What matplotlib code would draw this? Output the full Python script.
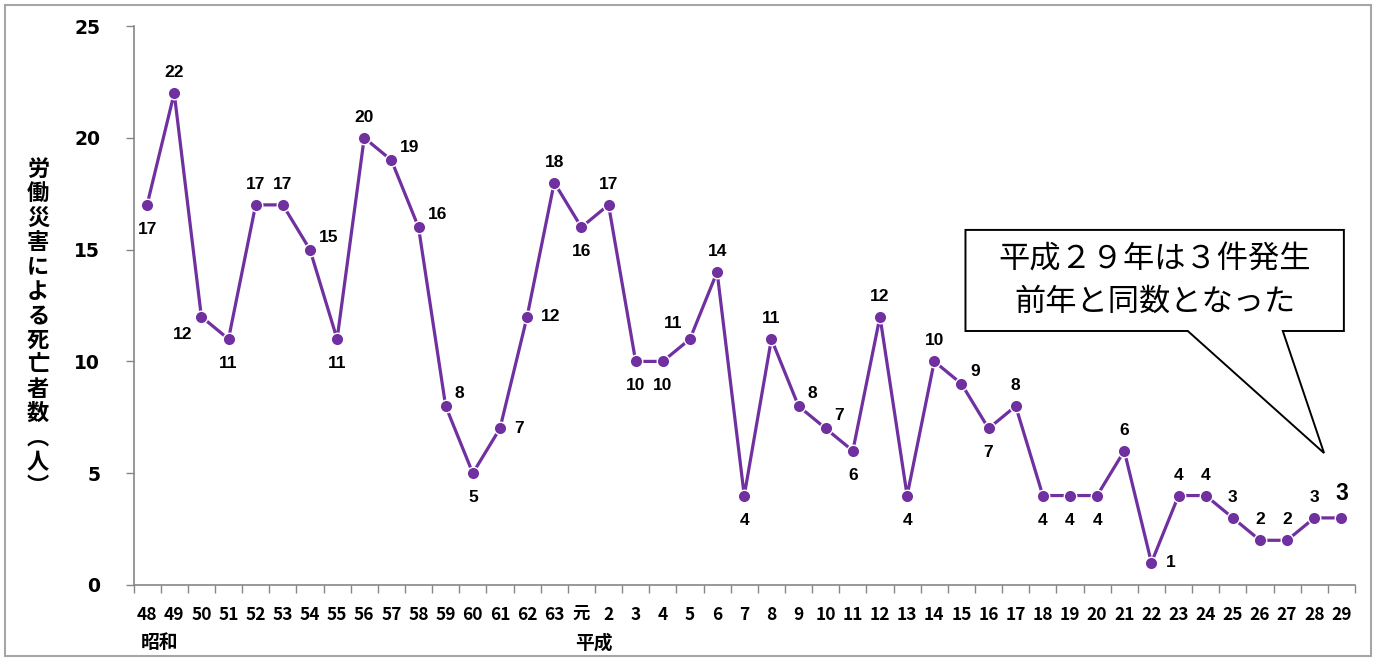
import matplotlib
matplotlib.use("Agg")
import matplotlib.pyplot as plt
from matplotlib.patches import Polygon, Rectangle

# 年度（昭和48年〜平成29年）
years = ["48", "49", "50", "51", "52", "53", "54", "55", "56", "57", "58", "59",
         "60", "61", "62", "63", "元", "2", "3", "4", "5", "6", "7", "8", "9",
         "10", "11", "12", "13", "14", "15", "16", "17", "18", "19", "20", "21",
         "22", "23", "24", "25", "26", "27", "28", "29"]
deaths = [17, 22, 12, 11, 17, 17, 15, 11, 20, 19, 16, 8, 5, 7, 12, 18, 16, 17,
          10, 10, 11, 14, 4, 11, 8, 7, 6, 12, 4, 10, 9, 7, 8, 4, 4, 4, 6, 1,
          4, 4, 3, 2, 2, 3, 3]
# データラベルの位置（a:上, b:下, r:右, ar:右上, al:左上, bl:左下）
label_pos = ["b", "a", "bl", "b", "a", "a", "ar", "b", "a", "ar", "ar", "ar",
             "b", "r", "r", "a", "b", "a", "b", "b", "al", "a", "b", "a", "ar",
             "ar", "b", "a", "b", "a", "ar", "b", "a", "b", "b", "b", "a", "r",
             "a", "a", "a", "a", "a", "a", "a"]
y_ticks = [0, 5, 10, 15, 20, 25]
era_labels = [("昭和", "48"), ("平成", "元")]
y_title = "労働災害による死亡者数︵人︶"
callout_text = "平成２９年は３件発生\n前年と同数となった"

PURPLE = "#7030A0"
CJK = "Noto Sans CJK JP"

offsets = {"a": (0, 13, "center", "bottom"),
           "b": (0, -17, "center", "top"),
           "r": (14, 0, "left", "center"),
           "ar": (9, 5, "left", "bottom"),
           "al": (-8, 8, "right", "bottom"),
           "bl": (-9, -10, "right", "top")}

fig = plt.figure(figsize=(13.84, 6.61), dpi=100)
W, H = 1384, 661
ax = fig.add_axes([133.5 / W, 76 / H, (1355 - 133.5) / W, (585 - 26) / H])

x = list(range(len(years)))
ax.plot(x, deaths, color=PURPLE, lw=2.3, marker="o", ms=9,
        mfc=PURPLE, mec="white", mew=1.0, zorder=3, clip_on=False)

for i, (v, p) in enumerate(zip(deaths, label_pos)):
    dx, dy, ha, va = offsets[p]
    last = i == len(deaths) - 1
    ax.annotate(str(v), (i, v), xytext=(dx, dy), textcoords="offset pixels",
                ha=ha, va=va, fontsize=16.5 if last else 12.5,
                fontweight="bold", family=["Liberation Sans", "DejaVu Sans"],
                color="black", zorder=4)

ax.set_xlim(-0.5, len(years) - 0.5)
ax.set_ylim(0, 25)
ax.set_yticks(y_ticks)
ax.set_yticklabels([str(t) for t in y_ticks], fontsize=13.5, fontweight="bold",
                   family=["DejaVu Sans"])
ax.tick_params(axis="y", direction="out", length=6, width=1, color="#868686",
               pad=18)

ax.set_xticks(x)
ax.set_xticklabels(years, fontsize=12.5, fontweight="bold",
                   family=["Liberation Sans Narrow", CJK])
ax.tick_params(axis="x", which="major", length=0, pad=15)
ax.set_xticks([i - 0.5 for i in range(len(years) + 1)], minor=True)
ax.tick_params(axis="x", which="minor", direction="out", length=6, width=1,
               color="#868686")

for s in ["top", "right"]:
    ax.spines[s].set_visible(False)
for s in ["left", "bottom"]:
    ax.spines[s].set_color("#868686")
    ax.spines[s].set_linewidth(1.2)

# 元号の表示
for era, yr in era_labels:
    xi = years.index(yr)
    ax.annotate(era, (xi, 0), xytext=(12, -58), textcoords="offset pixels",
                xycoords=("data", "axes fraction"), ha="center", va="center",
                fontsize=13.5, fontweight="bold", family=[CJK])

# 縦書きの軸タイトル
fig.text(38 / W, 1 - 328 / H, "\n".join(y_title), ha="center", va="center",
         fontsize=16, fontweight="bold", family=[CJK], linespacing=1.08)

# 吹き出し
bx0, bx1, by0, by1 = 30.15, 44.09, 11.36, 15.88
callout = Polygon([(bx0, by1), (bx1, by1), (bx1, by0), (41.84, by0),
                   (43.36, 5.9), (38.34, by0), (bx0, by0)],
                  closed=True, facecolor="white", edgecolor="black", lw=1.4,
                  clip_on=False, zorder=5)
ax.add_patch(callout)
ax.text((bx0 + bx1) / 2, (by0 + by1) / 2, callout_text, ha="center",
        va="center", fontsize=22.5, family=[CJK], linespacing=1.4, zorder=6)

# 外枠
fig.add_artist(Rectangle((5 / W, 5 / H), 1366 / W, 651 / H,
                         transform=fig.transFigure, fill=False,
                         edgecolor="#A6A6A6", lw=1.5))

fig.savefig("out.png", dpi=100, facecolor="white")
